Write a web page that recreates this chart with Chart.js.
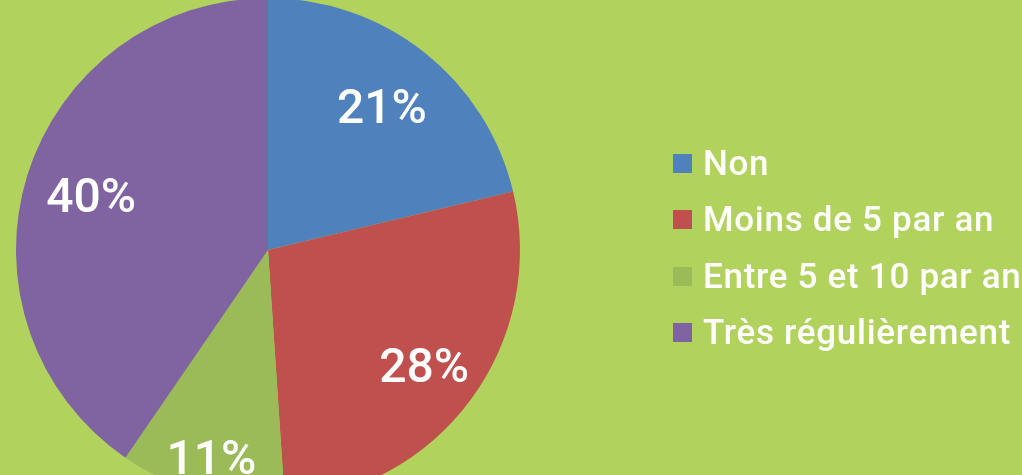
<!DOCTYPE html>
<html>
<head>
<meta charset="utf-8">
<script src="https://cdn.jsdelivr.net/npm/chart.js@4"></script>
<style>
  html, body { margin: 0; padding: 0; width: 1022px; height: 475px; overflow: hidden; background: #b2d25e; }
  #wrap { position: absolute; left: 0; top: -2px; width: 1022px; height: 504px; }
  #legend { position: absolute; left: 673px; top: 135px; font-family: Roboto, sans-serif; font-weight: 500; font-size: 35px; letter-spacing: 0.7px; color: #fff; }
  .row { height: 56.5px; display: flex; align-items: center; white-space: nowrap; }
  .box { width: 19px; height: 19px; margin-right: 11px; }
</style>
</head>
<body>
<div id="wrap"><canvas id="myChart"></canvas></div>
<div id="legend"></div>
<script>
var labels = ['Non', 'Moins de 5 par an', 'Entre 5 et 10 par an', 'Très régulièrement'];
// answers counted per group (47 in all)
var values = [10, 13, 5, 19];
var colors = ['#4f81bd', '#c0504d', '#9bbb59', '#8064a2'];

// how far out each percentage sits, as a share of the radius
var labelRadius = [0.73, 0.77, 0.85, 0.735];

var total = values.reduce(function(a, b) { return a + b; }, 0);

var pieLabels = {
    id: 'pieLabels',
    afterDatasetsDraw: function(chart) {
        var c = chart.ctx;
        var arcs = chart.getDatasetMeta(0).data;
        c.save();
        c.fillStyle = '#fff';
        c.font = '500 48px Roboto, sans-serif';
        c.textAlign = 'center';
        c.textBaseline = 'middle';
        arcs.forEach(function(arc, i) {
            var p = arc.getProps(['x', 'y', 'startAngle', 'endAngle', 'outerRadius'], true);
            var mid = (p.startAngle + p.endAngle) / 2;
            var r = p.outerRadius * labelRadius[i];
            var pct = Math.round(values[i] / total * 100) + '%';
            c.fillText(pct, p.x + Math.cos(mid) * r, p.y + Math.sin(mid) * r + 5);
        });
        c.restore();
    }
};

var ctx = document.getElementById('myChart').getContext('2d');
var myChart = new Chart(ctx, {
    type: 'pie',
    data: {
        labels: labels,
        datasets: [{
            data: values,
            backgroundColor: colors,
            borderWidth: 0
        }]
    },
    options: {
        responsive: true,
        maintainAspectRatio: false,
        animation: false,
        layout: {
            padding: { left: 16, right: 502, top: 0, bottom: 0 }
        },
        plugins: {
            legend: { display: false },
            tooltip: { enabled: false }
        }
    },
    plugins: [pieLabels]
});

var legend = document.getElementById('legend');
labels.forEach(function(name, i) {
    var row = document.createElement('div');
    row.className = 'row';
    var box = document.createElement('span');
    box.className = 'box';
    box.style.background = colors[i];
    var txt = document.createElement('span');
    txt.textContent = name;
    row.appendChild(box);
    row.appendChild(txt);
    legend.appendChild(row);
});
</script>
</body>
</html>
